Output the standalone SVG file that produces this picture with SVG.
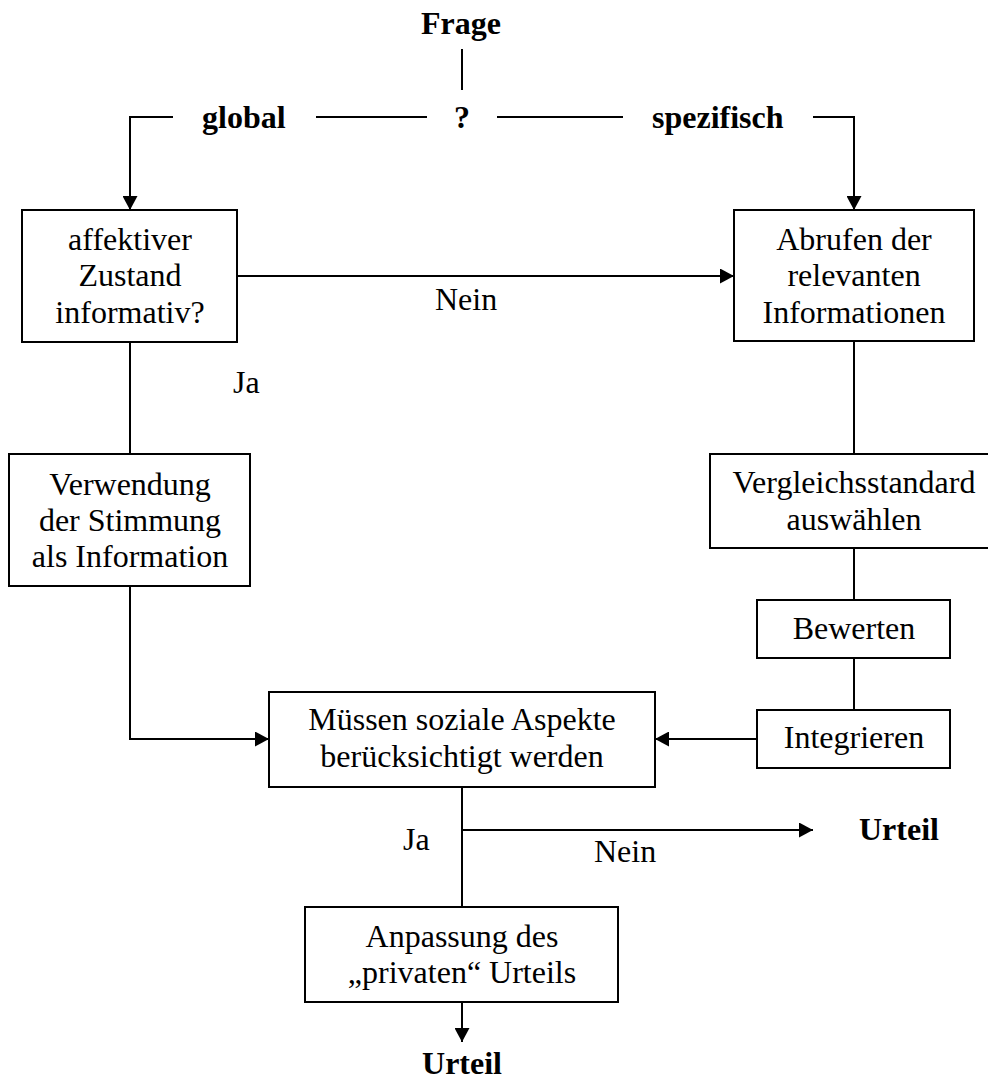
<svg xmlns="http://www.w3.org/2000/svg" width="988" height="1083" viewBox="0 0 988 1083">
<style>
text{font-family:"Liberation Serif","Times New Roman",serif;font-size:32px;fill:#000}
.b{font-weight:bold}
.c{text-anchor:middle}
.box{fill:#fff;stroke:#000;stroke-width:2}
.ln{fill:none;stroke:#000;stroke-width:2}
</style>
<defs>
<marker id="ah" markerUnits="userSpaceOnUse" markerWidth="15" markerHeight="15" refX="14" refY="7.5" orient="auto">
<path d="M0,0 L14,7.5 L0,15 Z" fill="#000"/>
</marker>
</defs>
<rect width="988" height="1083" fill="#fff"/>
<g id="connectors">
<line class="ln" x1="462" y1="49" x2="462" y2="90"/>
<line class="ln" x1="316" y1="117" x2="427" y2="117"/>
<line class="ln" x1="497" y1="117" x2="623" y2="117"/>
<polyline class="ln" points="173,117 130,117 130,210" marker-end="url(#ah)"/>
<polyline class="ln" points="813,117 854,117 854,210" marker-end="url(#ah)"/>
<line class="ln" x1="237" y1="276" x2="734" y2="276" marker-end="url(#ah)"/>
<line class="ln" x1="130" y1="342" x2="130" y2="454"/>
<polyline class="ln" points="130,586 130,739 269,739" marker-end="url(#ah)"/>
<line class="ln" x1="854" y1="341" x2="854" y2="454"/>
<line class="ln" x1="854" y1="548" x2="854" y2="600"/>
<line class="ln" x1="854" y1="658" x2="854" y2="710"/>
<line class="ln" x1="757" y1="739" x2="655" y2="739" marker-end="url(#ah)"/>
<line class="ln" x1="462" y1="787" x2="462" y2="907"/>
<line class="ln" x1="462" y1="830" x2="813" y2="830" marker-end="url(#ah)"/>
<line class="ln" x1="462" y1="1002" x2="462" y2="1042" marker-end="url(#ah)"/>
<text x="435" y="310">Nein</text>
<text x="233" y="393">Ja</text>
<text x="403" y="850">Ja</text>
<text x="594" y="862">Nein</text>
</g>
<g id="frage"><text class="b c" x="461" y="34">Frage</text></g>
<g id="global"><text class="b" x="202" y="128">global</text></g>
<g id="q"><text class="b c" x="462" y="128">?</text></g>
<g id="spezifisch"><text class="b" x="652" y="128">spezifisch</text></g>
<g id="affektiv">
<rect class="box" x="22" y="210" width="215" height="132"/>
<text class="c" x="130" y="250">affektiver</text>
<text class="c" x="130" y="286">Zustand</text>
<text class="c" x="130" y="323">informativ?</text>
</g>
<g id="abrufen">
<rect class="box" x="734" y="210" width="240" height="131"/>
<text class="c" x="854" y="250">Abrufen der</text>
<text class="c" x="854" y="286">relevanten</text>
<text class="c" x="854" y="323">Informationen</text>
</g>
<g id="verwendung">
<rect class="box" x="9" y="454" width="241" height="132"/>
<text class="c" x="130" y="495">Verwendung</text>
<text class="c" x="130" y="531">der Stimmung</text>
<text class="c" x="130" y="567">als Information</text>
</g>
<g id="vergleich">
<rect class="box" x="710" y="454" width="290" height="94"/>
<text class="c" x="854" y="493">Vergleichsstandard</text>
<text class="c" x="854" y="530">auswählen</text>
</g>
<g id="bewerten">
<rect class="box" x="757" y="600" width="193" height="58"/>
<text class="c" x="854" y="639">Bewerten</text>
</g>
<g id="integrieren">
<rect class="box" x="757" y="710" width="193" height="58"/>
<text class="c" x="854" y="748">Integrieren</text>
</g>
<g id="soziale">
<rect class="box" x="269" y="692" width="386" height="95"/>
<text class="c" x="462" y="730">Müssen soziale Aspekte</text>
<text class="c" x="462" y="767">berücksichtigt werden</text>
</g>
<g id="urteil1"><text class="b" x="859" y="840">Urteil</text></g>
<g id="anpassung">
<rect class="box" x="305" y="907" width="313" height="95"/>
<text class="c" x="462" y="947">Anpassung des</text>
<text class="c" x="462" y="983">„privaten“ Urteils</text>
</g>
<g id="urteil2"><text class="b c" x="462" y="1074">Urteil</text></g>
</svg>
